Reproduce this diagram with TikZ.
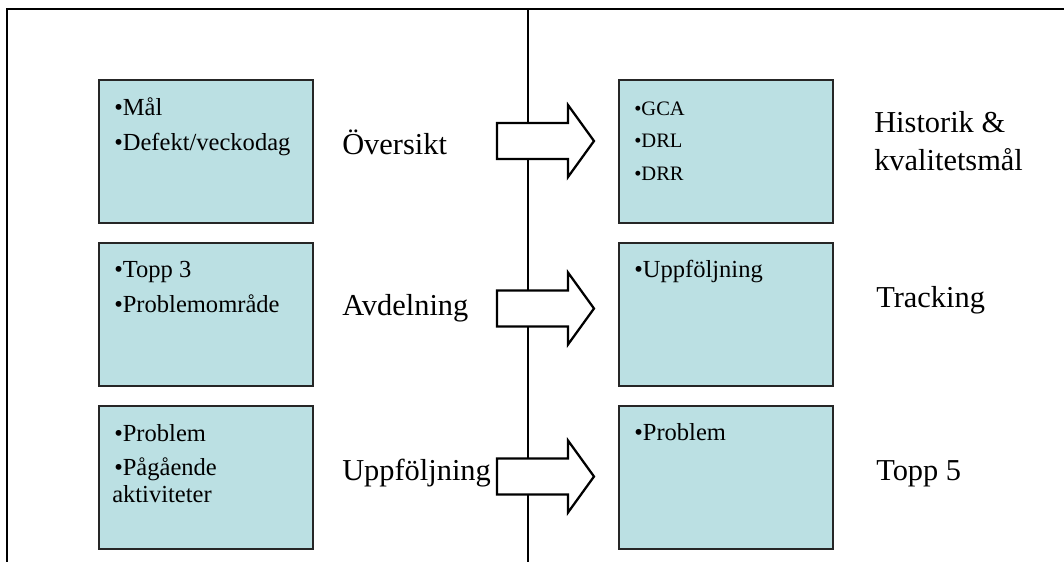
\documentclass[tikz,border=0pt]{standalone}
\usepackage{fontspec}
\setmainfont{Liberation Serif}
\usetikzlibrary{positioning}
\definecolor{boxblue}{RGB}{187,224,227}

\begin{document}
\begin{tikzpicture}[x=0.75pt, y=-0.75pt]
            \tikzstyle{panel} = [draw=black!85, line width=1.5pt, fill=boxblue, minimum width=160.5pt, minimum height=107.25pt, inner sep=0pt]
            \tikzstyle{item} = [anchor=base west, inner sep=0pt, font=\fontsize{18.4}{21}\selectfont]
            \tikzstyle{small item} = [anchor=base west, inner sep=0pt, font=\fontsize{15.4}{18}\selectfont]
            \tikzstyle{label} = [anchor=base west, inner sep=0pt, font=\fontsize{22.8}{26}\selectfont]
            \tikzstyle{block arrow} = [draw=black, line width=1.7pt, fill=white, line join=miter]

            \useasboundingbox (0,0) rectangle (1064,562);

            % frame and divider
            \coordinate (divtop) at (528,9);
            \coordinate (divbot) at (528,562);
            \draw[line width=1.8pt] (1064,9) -- (7,9) -- (7,562);
            \draw[line width=1.6pt] (divtop) -- (divbot);

            % panels
            \node[panel] (lbox1) at (206,151.5) {};
            \node[panel] (lbox2) at (206,314.5) {};
            \node[panel] (lbox3) at (206,477) {};
            \node[panel] (rbox1) at (726,151.5) {};
            \node[panel] (rbox2) at (726,314.5) {};
            \node[panel] (rbox3) at (726,477) {};

            % panel texts
            \node[item] (mal) at (114,115) {•Mål};
            \node[item] (defekt) at (114,150) {•Defekt/veckodag};
            \node[item] (topp3) at (114,277) {•Topp 3};
            \node[item] (omrade) at (114,312) {•Problemområde};
            \node[item] (lprob) at (114,441) {•Problem};
            \node[item] (pagaende) at (114,475) {•Pågående};
            \node[item] (aktiv) at (112,502) {aktiviteter};
            \node[small item] (gca) at (634,115) {•GCA};
            \node[small item] (drl) at (634,147) {•DRL};
            \node[small item] (drr) at (634,180) {•DRR};
            \node[item] (uppf) at (634,277) {•Uppföljning};
            \node[item] (rprob) at (634,440) {•Problem};

            % arrows
            \foreach \y in {141,308.5,476.5}
                \draw[block arrow] (497,{\y-18}) -- (568,{\y-18}) -- (568,{\y-36}) -- (594,\y)
                    -- (568,{\y+36}) -- (568,{\y+18}) -- (497,{\y+18}) -- cycle;

            % labels
            \node[label] (oversikt) at (342,154) {Översikt};
            \node[label] (avdelning) at (342,315) {Avdelning};
            \node[label] (uppfoljning) at (342,480) {Uppföljning};
            \node[label] (historik) at (874,132) {Historik \&};
            \node[label] (kvalitet) at (874,170) {kvalitetsmål};
            \node[label] (tracking) at (876,307) {Tracking};
            \node[label] (topp5) at (876,480) {Topp 5};
        \end{tikzpicture}
\end{document}
